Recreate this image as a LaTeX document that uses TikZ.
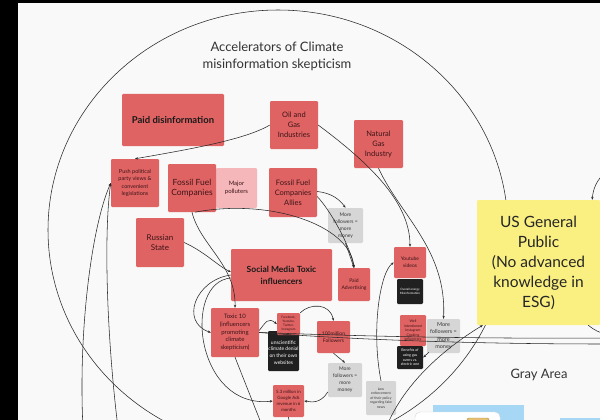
\documentclass[tikz,border=0pt]{standalone}
\usepackage{fontspec}
\setmainfont{Lato}
\usetikzlibrary{arrows.meta,calc}

\definecolor{bg}{RGB}{249,249,249}
\definecolor{redbox}{RGB}{224,99,99}
\definecolor{pinkbox}{RGB}{245,183,185}
\definecolor{graybox}{RGB}{214,214,214}
\definecolor{darkbox}{RGB}{32,32,32}
\definecolor{yellowbox}{RGB}{250,240,130}
\definecolor{skyblue}{RGB}{166,216,245}
\definecolor{redtext}{RGB}{60,20,24}
\definecolor{graytext}{RGB}{55,55,55}
\definecolor{gold}{RGB}{222,172,70}
\definecolor{wire}{RGB}{40,40,40}

\tikzset{
  card/.style={rectangle, rounded corners=1.2pt, align=center, inner sep=0pt},
  sz/.style 2 args={minimum width=#1pt, minimum height=#2pt},
  redcard/.style={card, fill=redbox, text=redtext},
  pinkcard/.style={card, fill=pinkbox, text=redtext},
  graycard/.style={card, fill=graybox, text=graytext},
  darkcard/.style={card, fill=darkbox, text=white},
  yellowcard/.style={card, fill=yellowbox, text=black!85},
  conn/.style={draw=wire, line width=0.55pt, -{Stealth[length=3pt,width=2.4pt]}},
  wireline/.style={draw=wire, line width=0.55pt},
}

\begin{document}
\begin{tikzpicture}[x=1pt,y=-1pt]
\useasboundingbox (0,0) rectangle (600,420);
\clip (0,0) rectangle (600,420);
\fill[bg] (0,0) rectangle (600,420);

% outer boundary of the accelerators zone
\draw[wireline] (278,230) ellipse [x radius=230, y radius=220];

\node[font=\fontsize{13}{17}\selectfont, text=black!80, align=center] (title) at (277,56)
  {Accelerators of Climate\\misinformation skepticism};

% actors and mechanisms
\node[redcard, sz={102}{52}, font=\bfseries\fontsize{9.5}{12}\selectfont, text=black!90] (paid) at (173,120) {Paid disinformation};
\node[redcard, sz={48}{48}, font=\fontsize{5.5}{7.2}\selectfont] (push) at (135,183) {Push political\\party views \&\\convenient\\legislations};
\node[pinkcard, sz={41}{40}, font=\fontsize{6}{8}\selectfont] (major) at (236.5,188) {Major\\polluters};
\node[redcard, sz={48}{48}, font=\fontsize{8.5}{10.5}\selectfont] (ffc) at (192,188) {Fossil Fuel\\Companies};
\node[redcard, sz={48}{48}, font=\fontsize{7.5}{10}\selectfont] (oil) at (294,125) {Oil and\\Gas\\Industries};
\node[redcard, sz={49}{48}, font=\fontsize{7.5}{10}\selectfont] (natgas) at (378.5,144) {Natural\\Gas\\Industry};
\node[redcard, sz={48}{49}, font=\fontsize{7.5}{10}\selectfont] (allies) at (293,192.5) {Fossil Fuel\\Companies\\Allies};
\node[graycard, sz={35}{35}, font=\fontsize{5}{7}\selectfont] (more1) at (345.5,225.5) {More\\followers =\\more\\money};
\node[redcard, sz={32}{33}, font=\fontsize{5}{7}\selectfont] (paidadv) at (354,284.5) {Paid\\Advertising};
\node[redcard, sz={32}{31}, font=\fontsize{5}{7}\selectfont] (yt) at (410,262.5) {Youtube\\videos};
\node[darkcard, sz={26}{25}, font=\fontsize{3}{4}\selectfont] (energy) at (410,291.5) {Overall energy\\Misinformation};
\node[redcard, sz={48}{49}, font=\fontsize{8}{10.5}\selectfont] (russia) at (160,242.5) {Russian\\State};
\node[redcard, sz={101}{52}, font=\bfseries\fontsize{8.5}{12}\selectfont, text=black!90] (social) at (281.5,275) {Social Media Toxic\\influencers};
\node[redcard, sz={48}{49}, font=\fontsize{6}{7.8}\selectfont] (toxic) at (235,332.5) {Toxic 10\\(influencers\\promoting\\climate\\skepticism)};
\node[darkcard, sz={31}{40}, font=\fontsize{5}{6.6}\selectfont] (denial) at (283.5,351) {\\unscientific\\climate denial\\on their own\\websites};
\node[redcard, sz={23}{22}, font=\fontsize{3.2}{4}\selectfont] (platforms) at (288.5,324) {Facebook,\\Youtube,\\Twitter,\\Instagram};
\node[redcard, sz={33}{32}, font=\fontsize{5}{6.5}\selectfont] (followers) at (333.5,337) {100million\\Followers};
\node[graycard, sz={34}{34}, font=\fontsize{5}{7}\selectfont] (more2) at (345,380) {More\\followers =\\more\\money};
\node[redcard, sz={31}{32}, font=\fontsize{4.4}{5.8}\selectfont] (adsrev) at (288.5,401) {5.3 million in\\Google Ads\\revenue in 6\\months};
\node[redcard, sz={26}{31}, font=\fontsize{3.5}{4.6}\selectfont] (cooking) at (413,330.5) {Well\\intentioned\\Instagram\\Cooking\\Influencers};
\node[darkcard, sz={26}{23}, font=\fontsize{3.6}{4.7}\selectfont] (gasovens) at (410,357.5) {Benefits of\\using gas\\ovens vs.\\electric one};
\node[graycard, sz={33}{34}, font=\fontsize{5.5}{7.3}\selectfont] (more3) at (443.5,336) {More\\followers =\\more\\money};
\node[graycard, sz={30}{34}, font=\fontsize{3.5}{4.6}\selectfont] (enforce) at (381,398) {Low\\enforcement\\of their policy\\regarding fake\\news};

\node[yellowcard, sz={123}{125}, font=\fontsize{15.5}{20}\selectfont] (public) at (538.5,262.5) {US General\\Public\\(No advanced\\knowledge in\\ESG)};
\node[font=\fontsize{13}{16}\selectfont, text=black!80] (grayarea) at (539,375) {Gray Area};

% loose ends running off the sheet
\coordinate (offA) at (83,428);
\coordinate (offB) at (118,428);
\coordinate (offC) at (263,428);
\coordinate (offD) at (290,428);
\coordinate (offE) at (386,428);
\coordinate (offR1) at (606,344);
\coordinate (offR2) at (606,338);
\coordinate (offR3) at (606,172);
\coordinate (offR4) at (606,334);

% connectors
\draw[conn] (oil.west) .. controls (245,140) and (185,150) .. (push.north);
\draw[conn] (offA) .. controls (78,330) and (92,225) .. (push.west);
\draw[conn] (offB) .. controls (106,330) and (104,230) .. (push.west);
\draw[conn] (ffc.south) .. controls (200,245) and (236,265) .. (toxic.north);
\draw[conn] ($(ffc.south)+(3,0)$) .. controls (270,198) and (350,225) .. (paidadv.north);
\draw[conn] ($(allies.east)+(0,-1)$) .. controls (332,193) and (340,200) .. (more1.north);
\draw[conn] ($(allies.east)+(0,4)$) .. controls (330,210) and (350,245) .. (paidadv.north);
\draw[conn] (more1.south) -- (paidadv.north);
\draw[conn] (oil.east) .. controls (365,160) and (410,200) .. (yt.north);
\draw[conn] (natgas.south) .. controls (400,215) and (447,250) .. (more3.north);
\draw[conn] (russia.east) .. controls (205,252) and (218,266) .. ($(social.west)+(0,-3)$);
\draw[conn] (social.west) .. controls (195,280) and (180,322) .. (toxic.west);
\draw[conn] ($(social.west)+(0,3)$) .. controls (182,282) and (195,410) .. (adsrev.west);
\draw[conn] ($(toxic.east)+(0,-2)$) .. controls (266,322) and (268,317) .. (platforms.west);
\draw[conn] (platforms.north east) .. controls (310,303) and (330,303) .. (followers.north);
\draw[conn] (followers.south) -- (more2.north);
\draw[conn] ($(more2.west)+(0,12)$) .. controls (320,404) and (312,402) .. (adsrev.east);
\draw[wireline] (toxic.south) -- (offC);
\draw[wireline] (adsrev.south) -- (offD);
\draw[wireline] (toxic.east) .. controls (330,338) and (450,344) .. (offR1);
\draw[wireline] (toxic.east) .. controls (330,335) and (450,339) .. (offR2);
\draw[conn] (enforce.north) .. controls (371,330) and (380,272) .. (yt.west);
\draw[conn] ($(more3.south west)+(2,-1)$) -- (gasovens.east);
\draw[conn] (offE) .. controls (405,380) and (450,345) .. ($(public.south west)+(6,0)$);
\draw[conn] (offR3) .. controls (596,180) and (593,190) .. ($(public.north east)+(-8,0)$);
\draw[wireline] ($(public.south east)+(-12,0)$) .. controls (594,330) and (600,333) .. (offR4);

% partly visible cards along the lower edge
\fill[skyblue] (433,405) rectangle (524,425);
\filldraw[fill=white, draw=black!15, rounded corners=5pt] (415,412) rectangle (500,440);
\filldraw[fill=gold!75, draw=gold!80!black, rounded corners=2pt] (467,418) rectangle (489,440);
\fill[skyblue] (560,418) rectangle (600,425);

% dark frame along the top and left edges
\fill[black] (0,0) rectangle (17.5,420);
\fill[black] (0,0) rectangle (600,2.8);
\end{tikzpicture}
\end{document}
